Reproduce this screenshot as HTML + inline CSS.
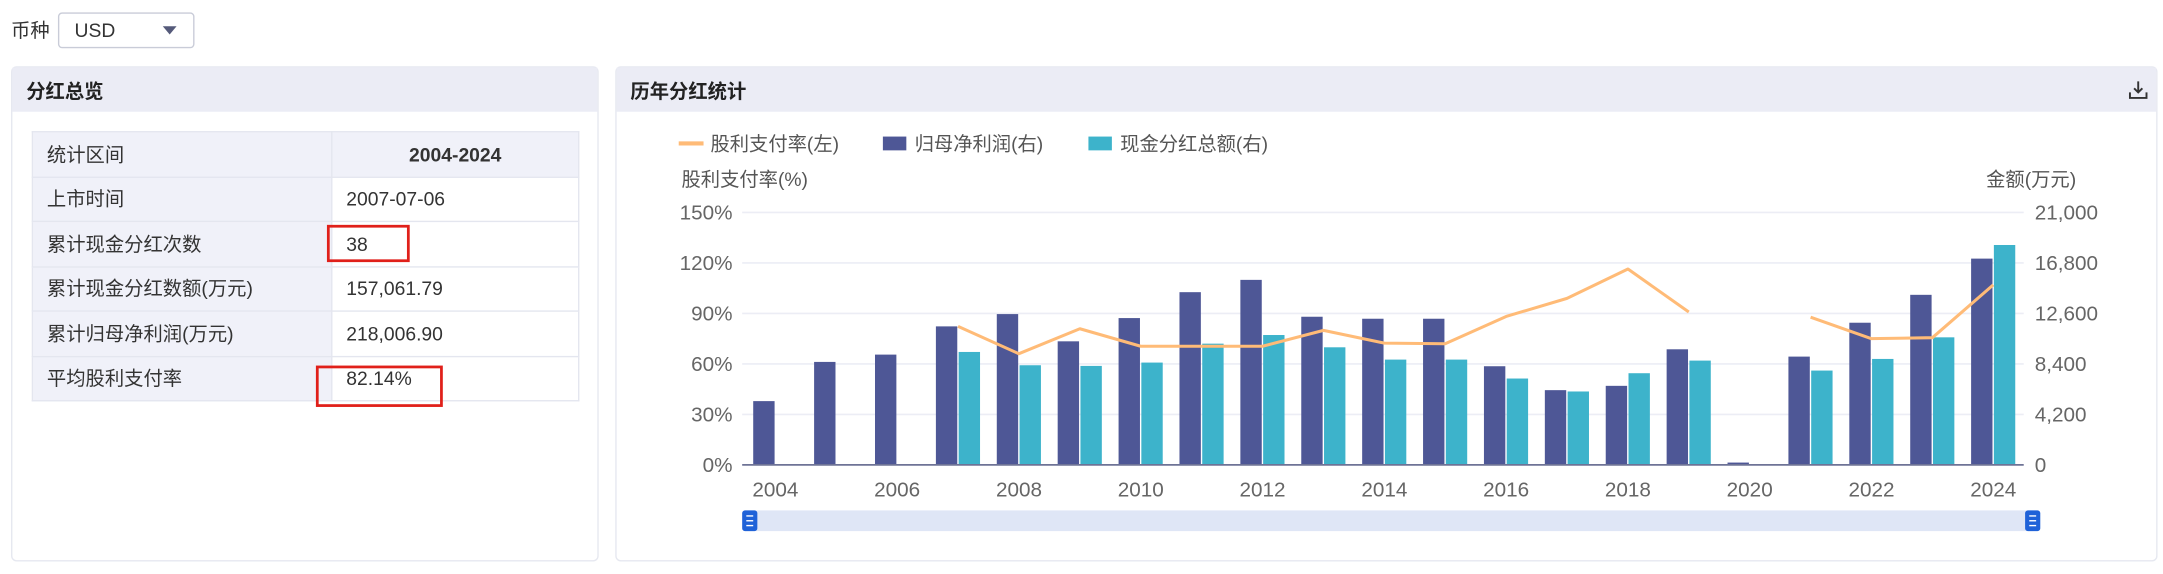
<!DOCTYPE html>
<html><head><meta charset="utf-8">
<style>
html,body{margin:0;padding:0;background:#fff;width:2163px;height:573px;overflow:hidden;}
#root{position:absolute;left:0;top:0;width:1568px;height:416px;transform:scale(1.3795);transform-origin:0 0;font-family:"Liberation Sans","Noto Sans CJK SC",sans-serif;color:#333;}
.panel{position:absolute;border:1px solid #e6e8f0;border-radius:4px;background:#fff;}
.ph{height:32px;background:#ebecf5;font-weight:bold;font-size:14px;line-height:34px;padding-left:10px;color:#222;}
table{position:absolute;left:14px;top:46px;border-collapse:collapse;font-size:14px;}
td{border:1px solid #e4e6ef;height:31.5px;padding:0;color:#333;}
td.k{background:#f0f1f9;width:206px;padding-left:10px;}
td.v{width:168px;padding-left:10px;}
</style></head><body>
<div id="root">
 <div style="position:absolute;left:8px;top:12px;font-size:14px;">币种</div>
 <div style="position:absolute;left:42px;top:9px;width:97px;height:24px;border:1px solid #c9ccd8;border-radius:3px;font-size:14px;line-height:24px;">
  <span style="margin-left:11px;">USD</span>
  <span style="position:absolute;right:12px;top:9px;width:0;height:0;border-left:5px solid transparent;border-right:5px solid transparent;border-top:6px solid #555a7a;"></span>
 </div>

 <div class="panel" style="left:8px;top:48px;width:424px;height:357px;">
  <div class="ph">分红总览</div>
  <table>
   <tr><td class="k">统计区间</td><td class="v" style="background:#f0f1f9;text-align:center;font-weight:bold;padding:0;">2004-2024</td></tr>
   <tr><td class="k">上市时间</td><td class="v">2007-07-06</td></tr>
   <tr><td class="k">累计现金分红次数</td><td class="v" style="position:relative;">38<div style="position:absolute;left:-4px;top:2px;width:56px;height:23px;border:2px solid #e0201a;"></div></td></tr>
   <tr><td class="k">累计现金分红数额(万元)</td><td class="v">157,061.79</td></tr>
   <tr><td class="k">累计归母净利润(万元)</td><td class="v">218,006.90</td></tr>
   <tr><td class="k">平均股利支付率</td><td class="v" style="position:relative;">82.14%<div style="position:absolute;left:-12px;top:6px;width:88px;height:26px;border:2px solid #e0201a;"></div></td></tr>
  </table>
 </div>

 <div class="panel" style="left:446px;top:48px;width:1116px;height:357px;">
  <div class="ph">历年分红统计</div>
  <svg style="position:absolute;right:6px;top:9px;" width="14" height="14" viewBox="0 0 14 14"><path d="M7 1v8M4 6l3 3 3-3M1 9v4h12V9" fill="none" stroke="#333" stroke-width="1.4"/></svg>
 </div>

 <svg id="chart" style="position:absolute;left:0;top:0;" width="1568" height="416"></svg>
</div>
<script>
const years=[2004,2005,2006,2007,2008,2009,2010,2011,2012,2013,2014,2015,2016,2017,2018,2019,2020,2021,2022,2023,2024];
const netProfit=[5305,8566,9174,11522,12545,10279,12213,14368,15391,12324,12158,12158,8207,6217,6576,9616,193,9008,11826,14147,17159];
const cashDividend=[0,0,0,9395,8289,8234,8511,10085,10804,9782,8759,8759,7184,6107,7626,8676,0,7847,8814,10611,18292];
const payoutRatio=[null,null,null,82.3,66.1,80.9,70.5,70.5,70.5,79.9,72.4,72.0,88.2,98.9,116.4,90.8,null,87.8,75.0,75.6,107];
const leftTicks=[0,30,60,90,120,150];
const rightTicks=[0,4200,8400,12600,16800,21000];

const NS='http://www.w3.org/2000/svg';
const svg=document.getElementById('chart');
const X0=540,X1=1467,Y0=337,Y1=154;
const band=(X1-X0)/years.length;
const xc=i=>X0+band*(i+0.5);
const yL=v=>Y0-(v/150)*(Y0-Y1);
const yR=v=>Y0-(v/21000)*(Y0-Y1);
function mk(t,a,txt){const e=document.createElementNS(NS,t);for(const k in a)e.setAttribute(k,a[k]);if(txt!=null)e.textContent=txt;svg.appendChild(e);return e;}
const F='"Liberation Sans","Noto Sans CJK SC",sans-serif';

let e;
e=mk('line',{x1:492,y1:104,x2:510,y2:104,stroke:'#ffbb77','stroke-width':3});


mk('text',{x:515,y:109,'font-size':14,fill:'#555','font-family':F},'股利支付率(左)');
e=mk('rect',{x:640,y:99,width:17,height:10,fill:'#4e5796'});


mk('text',{x:663,y:109,'font-size':14,fill:'#555','font-family':F},'归母净利润(右)');
e=mk('rect',{x:789,y:99,width:17,height:10,fill:'#3db3cb'});


mk('text',{x:812,y:109,'font-size':14,fill:'#555','font-family':F},'现金分红总额(右)');

e=mk('text',{x:494,y:135,'font-size':14,fill:'#555','font-family':F},'股利支付率(%)');


e=mk('text',{x:1505,y:135,'font-size':14,fill:'#555','font-family':F,'text-anchor':'end'},'金额(万元)');



leftTicks.forEach((t,i)=>{
  const y=yL(t);
  if(i>0){e=mk('line',{x1:X0-2,y1:y,x2:X1,y2:y,stroke:'#ecedf5','stroke-width':1.2});
  
  }
  e=mk('text',{x:531,y:y+5,'font-size':15,fill:'#666','text-anchor':'end','font-family':F},t+'%');
  
  
});
rightTicks.forEach(t=>{
  e=mk('text',{x:1475,y:yR(t)+5,'font-size':15,fill:'#666','font-family':F},t.toLocaleString('en-US'));
  
  
});

years.forEach((yr,i)=>{
  const bx=X0+band*i;
  if(netProfit[i]>0){e=mk('rect',{x:bx+6,y:yR(netProfit[i]),width:15.5,height:Y0-yR(netProfit[i]),fill:'#4e5796'});
  
  }
  if(cashDividend[i]>0){e=mk('rect',{x:bx+22.5,y:yR(cashDividend[i]),width:15.5,height:Y0-yR(cashDividend[i]),fill:'#3db3cb'});
  
  }
  if(i%2===0){e=mk('text',{x:xc(i),y:360,'font-size':15,fill:'#666','text-anchor':'middle','font-family':F},String(yr));
  
  }
});
e=mk('line',{x1:X0-2,y1:Y0,x2:X1,y2:Y0,stroke:'#6e7396','stroke-width':1.3});



let d='',pen=false;
payoutRatio.forEach((v,i)=>{
  if(v==null){pen=false;return;}
  d+=(pen?'L':'M')+xc(i).toFixed(1)+' '+yL(v).toFixed(1)+' ';pen=true;
});
e=mk('path',{d:d,fill:'none',stroke:'#ffbb77','stroke-width':2.2,'stroke-linejoin':'round'});



e=mk('rect',{x:540,y:370,width:934,height:15,fill:'#dfe6f6'});


[538,1468].forEach(hx=>{
  e=mk('rect',{x:hx,y:370,width:11,height:15,rx:2,fill:'#1f62d8'});
  
  
  [374,377.5,381].forEach(ly=>mk('line',{x1:hx+3,y1:ly,x2:hx+8,y2:ly,stroke:'#fff','stroke-width':1}));
});
</script>
</body></html>
